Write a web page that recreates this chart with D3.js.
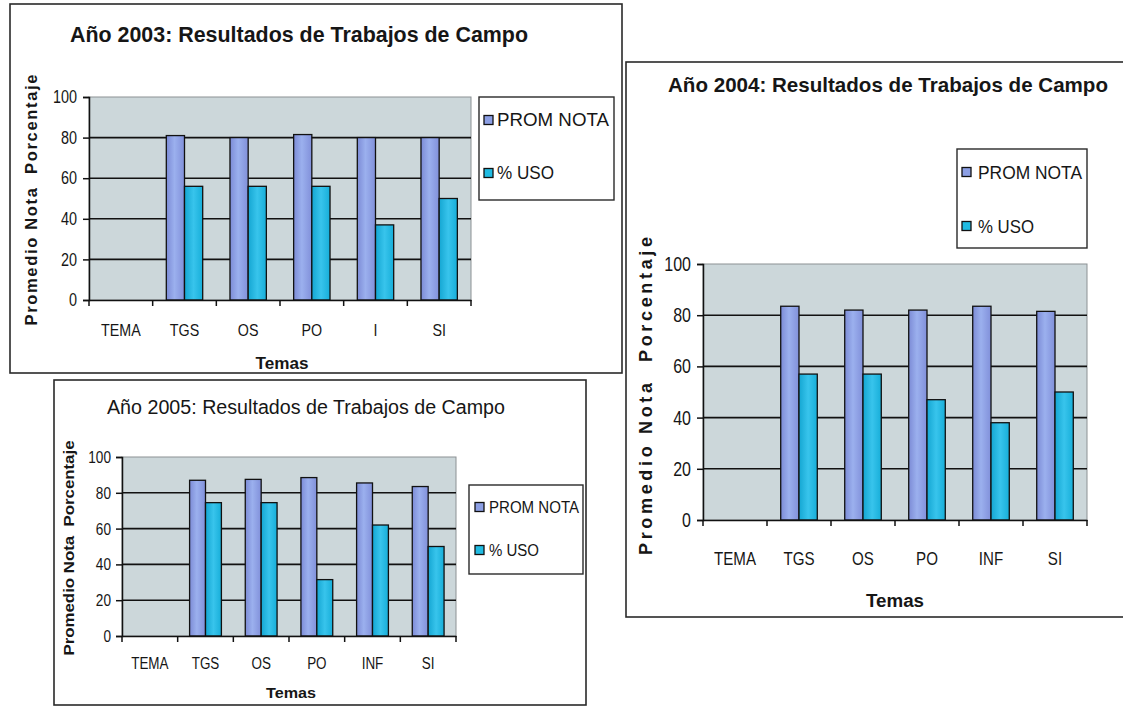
<!DOCTYPE html>
<html>
<head>
<meta charset="utf-8">
<script src="https://cdn.jsdelivr.net/npm/d3@7"></script>
<style>
  html, body { margin: 0; padding: 0; background: #ffffff; }
  svg { display: block; }
  text { fill: #161616; }
</style>
</head>
<body>
<svg id="board" width="1123" height="707"></svg>
<script>
// ---- data ----
const seriesNames = ["PROM NOTA", "% USO"];
const yTicks = [0, 20, 40, 60, 80, 100];

const categories2003 = ["TEMA", "TGS", "OS", "PO", "I", "SI"];
const promNota2003 = [null, 81, 80, 81.5, 80, 80];
const uso2003 = [null, 56, 56, 56, 37, 50];

const categories2004 = ["TEMA", "TGS", "OS", "PO", "INF", "SI"];
const promNota2004 = [null, 83.5, 82, 82, 83.5, 81.5];
const uso2004 = [null, 57, 57, 47, 38, 50];

const categories2005 = ["TEMA", "TGS", "OS", "PO", "INF", "SI"];
const promNota2005 = [null, 87, 87.5, 88.5, 85.5, 83.5];
const uso2005 = [null, 74.5, 74.5, 31.5, 62, 50];

const titles = [
  "Año 2003: Resultados de Trabajos de Campo",
  "Año 2004: Resultados de Trabajos de Campo",
  "Año 2005: Resultados de Trabajos de Campo"
];
const yTitle = "Promedio Nota  Porcentaje";
const xTitle = "Temas";

// ---- drawing ----
const svg = d3.select("#board");
const SANS = "'Liberation Sans',Arial,sans-serif";

const defs = svg.append("defs");
function barGradient(id, stops) {
  const g = defs.append("linearGradient").attr("id", id)
    .attr("x1", 0).attr("x2", 1).attr("y1", 0).attr("y2", 0);
  stops.forEach(([o, c]) => g.append("stop").attr("offset", o).attr("stop-color", c));
}
barGradient("gProm", [[0, "#7c8bd6"], [0.45, "#9bb0ee"], [1, "#8190da"]]);
barGradient("gUso", [[0, "#14a6d2"], [0.5, "#38c4ec"], [1, "#17aed9"]]);
const fills = ["url(#gProm)", "url(#gUso)"];
const swatchFills = ["#8c9fe4", "#20bbe2"];

// squeeze text horizontally to get a condensed face
function condense(sel, f) {
  sel.each(function () {
    const w = this.getComputedTextLength();
    d3.select(this).attr("textLength", w * f).attr("lengthAdjust", "spacingAndGlyphs");
  });
}

function drawChart(cfg) {
  const g = svg.append("g");

  // outer frame
  g.append("rect")
    .attr("x", cfg.frame[0]).attr("y", cfg.frame[1])
    .attr("width", cfg.frame[2]).attr("height", cfg.frame[3])
    .attr("fill", "#ffffff").attr("stroke", "#2a2a2a").attr("stroke-width", 1.6);

  // title
  g.append("text")
    .attr("x", cfg.title.x).attr("y", cfg.title.y)
    .attr("text-anchor", "middle")
    .attr("font-family", SANS)
    .attr("font-weight", cfg.title.bold ? "bold" : "normal")
    .attr("font-size", cfg.title.size)
    .attr("textLength", cfg.title.len).attr("lengthAdjust", "spacingAndGlyphs")
    .text(cfg.title.text);

  const p = cfg.plot;
  const x = d3.scaleBand().domain(cfg.categories).range([p.x0, p.x1]).padding(0);
  const xs = d3.scaleBand().domain(seriesNames).range([0, x.bandwidth()])
    .paddingInner(0).paddingOuter(0.75);
  const y = d3.scaleLinear().domain([0, 100]).range([p.y1, p.y0]);

  // plot background
  g.append("rect")
    .attr("x", p.x0).attr("y", p.y0)
    .attr("width", p.x1 - p.x0).attr("height", p.y1 - p.y0)
    .attr("fill", "#ccd7da").attr("stroke", "#8c9194").attr("stroke-width", 1);

  // gridlines
  g.append("g").selectAll("line")
    .data(yTicks.filter(v => v > 0 && v < 100))
    .join("line")
    .attr("x1", p.x0).attr("x2", p.x1)
    .attr("y1", d => y(d)).attr("y2", d => y(d))
    .attr("stroke", "#111").attr("stroke-width", 1.6);

  // bars
  const series = [cfg.prom, cfg.uso];
  series.forEach((vals, si) => {
    g.append("g").selectAll("rect")
      .data(cfg.categories.map((c, i) => ({ c, v: vals[i] })).filter(d => d.v != null))
      .join("rect")
      .attr("x", d => x(d.c) + xs(seriesNames[si]))
      .attr("width", xs.bandwidth())
      .attr("y", d => y(d.v))
      .attr("height", d => y(0) - y(d.v))
      .attr("fill", fills[si])
      .attr("stroke", "#111").attr("stroke-width", 1.3);
  });

  // y axis
  const yAxis = g.append("g")
    .attr("transform", `translate(${p.x0},0)`)
    .call(d3.axisLeft(y).tickValues(yTicks).tickSize(6).tickPadding(cfg.tickPad).tickFormat(d3.format("d")));
  yAxis.select(".domain").attr("stroke", "#111").attr("stroke-width", 1.5);
  yAxis.selectAll(".tick line").attr("stroke", "#111").attr("stroke-width", 1.5);
  yAxis.selectAll(".tick text")
    .attr("font-family", SANS).attr("font-size", cfg.tickSize).attr("fill", "#161616")
    .call(condense, 0.8);

  // x axis: category labels centred in bands
  const xAxis = g.append("g")
    .attr("transform", `translate(0,${p.y1})`)
    .call(d3.axisBottom(x).tickSize(0).tickPadding(cfg.xPad));
  xAxis.select(".domain").attr("stroke", "#111").attr("stroke-width", 1.6);
  xAxis.selectAll(".tick text")
    .attr("font-family", SANS).attr("font-size", cfg.xSize).attr("fill", "#161616")
    .call(condense, 0.84);

  // x tick marks on the category boundaries
  const bounds = cfg.categories.map(c => x(c)).concat([x.range()[1]]);
  g.append("g").selectAll("line").data(bounds).join("line")
    .attr("x1", d => d).attr("x2", d => d)
    .attr("y1", p.y1).attr("y2", p.y1 + 6)
    .attr("stroke", "#111").attr("stroke-width", 1.5);

  // axis titles
  g.append("text")
    .attr("x", cfg.xTitle.x).attr("y", cfg.xTitle.y)
    .attr("text-anchor", "middle")
    .attr("font-family", SANS).attr("font-weight", "bold")
    .attr("font-size", cfg.xTitle.size)
    .attr("textLength", cfg.xTitle.len).attr("lengthAdjust", "spacingAndGlyphs")
    .text(xTitle);

  g.append("text")
    .attr("transform", `translate(${cfg.yTitle.x},${cfg.yTitle.y}) rotate(-90)`)
    .attr("text-anchor", "middle")
    .attr("font-family", SANS).attr("font-weight", "bold")
    .attr("font-size", cfg.yTitle.size)
    .attr("textLength", cfg.yTitle.len).attr("lengthAdjust", cfg.yTitle.adjust)
    .attr("xml:space", "preserve")
    .text(yTitle);

  // legend
  const L = cfg.legend;
  g.append("rect")
    .attr("x", L.x).attr("y", L.y).attr("width", L.w).attr("height", L.h)
    .attr("fill", "#ffffff").attr("stroke", "#2a2a2a").attr("stroke-width", 1.4);
  seriesNames.forEach((name, i) => {
    const cy = L.rows[i];
    g.append("rect")
      .attr("x", L.sx).attr("y", cy - L.ss / 2)
      .attr("width", L.ss).attr("height", L.ss)
      .attr("fill", swatchFills[i]).attr("stroke", "#111").attr("stroke-width", 1.3);
    g.append("text")
      .attr("x", L.tx).attr("y", cy + L.size * 0.36)
      .attr("font-family", SANS).attr("font-size", L.size)
      .attr("textLength", L.lens[i]).attr("lengthAdjust", "spacingAndGlyphs")
      .text(name);
  });
}

// 2004 panel (right)
drawChart({
  categories: categories2004, prom: promNota2004, uso: uso2004,
  frame: [626, 62, 520, 555],
  title: { text: titles[1], x: 888, y: 92, size: 21, len: 440, bold: true },
  plot: { x0: 703, x1: 1087, y0: 264, y1: 520 },
  tickPad: 6, tickSize: 20, xPad: 32, xSize: 18,
  xTitle: { x: 895, y: 607, size: 18, len: 58 },
  yTitle: { x: 652, y: 396, size: 18, len: 318, adjust: "spacing" },
  legend: { x: 957, y: 149, w: 130, h: 99, sx: 962, ss: 9, tx: 978, size: 19,
            rows: [172, 226], lens: [104, 56] }
});

// 2003 panel (top left)
drawChart({
  categories: categories2003, prom: promNota2003, uso: uso2003,
  frame: [10, 4, 612, 369],
  title: { text: titles[0], x: 299, y: 42, size: 22, len: 458, bold: true },
  plot: { x0: 89, x1: 471, y0: 97, y1: 300 },
  tickPad: 6, tickSize: 18, xPad: 24, xSize: 17,
  xTitle: { x: 282, y: 369, size: 16, len: 53 },
  yTitle: { x: 37, y: 200, size: 16.5, len: 251, adjust: "spacing" },
  legend: { x: 479, y: 97, w: 135, h: 103, sx: 484, ss: 9, tx: 497, size: 18,
            rows: [120, 173], lens: [112, 57] }
});

// 2005 panel (bottom left)
drawChart({
  categories: categories2005, prom: promNota2005, uso: uso2005,
  frame: [54, 380, 532, 325],
  title: { text: titles[2], x: 306, y: 414, size: 20, len: 398, bold: false },
  plot: { x0: 122, x1: 456, y0: 457, y1: 636 },
  tickPad: 5, tickSize: 17, xPad: 22, xSize: 16,
  xTitle: { x: 291, y: 698, size: 15, len: 50 },
  yTitle: { x: 74, y: 548, size: 14.5, len: 215, adjust: "spacingAndGlyphs" },
  legend: { x: 469, y: 485, w: 114, h: 89, sx: 475, ss: 9, tx: 489, size: 16,
            rows: [507, 550], lens: [90, 50] }
});
</script>
</body>
</html>
